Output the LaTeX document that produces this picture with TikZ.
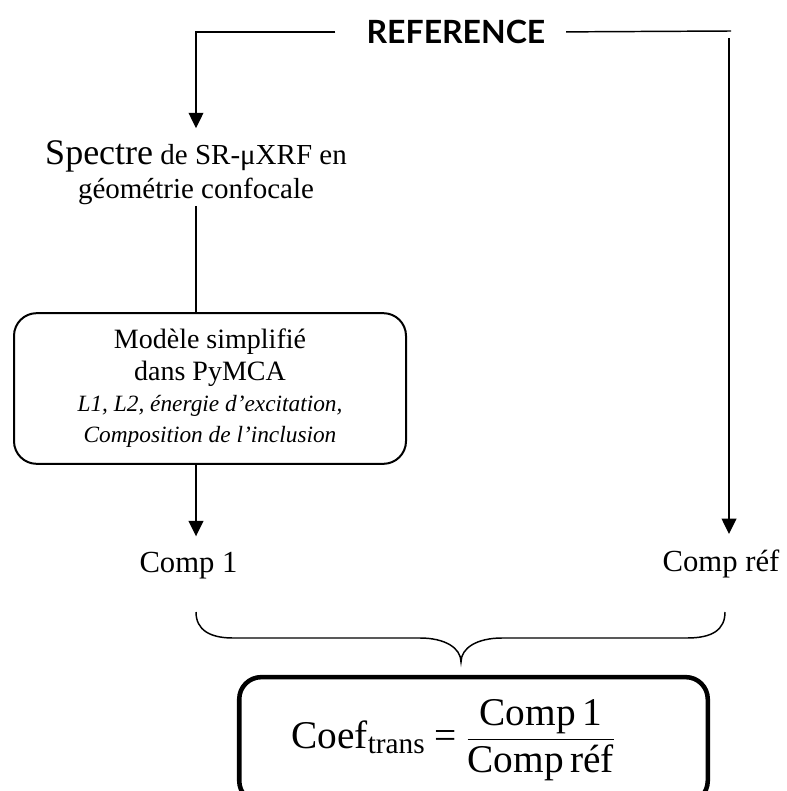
\documentclass[tikz,border=0pt]{standalone}
\usepackage{amsmath}
\usepackage{fontspec}
\setmainfont{Liberation Serif}
\newfontfamily\reffont{Lato}
\usetikzlibrary{arrows.meta}

\tikzset{every picture/.style={line width=1.1pt}}

\begin{document}
\begin{tikzpicture}[x=0.75pt,y=0.75pt,yscale=-1,xscale=1,
  arr/.style={-{Triangle[width=11pt,length=11.5pt]}},
  lbl/.style={inner sep=0pt,align=center},
  modelbox/.style={draw,line width=1.5pt,rounded corners=17pt,minimum width=294pt,minimum height=113pt,align=center,font=\fontsize{21}{23.5}\selectfont},
  coefbox/.style={draw,line width=3.4pt,rounded corners=16.5pt,minimum width=351.4pt,minimum height=94.3pt,inner sep=0pt}]
\useasboundingbox (0,0) rectangle (787,791);

% Text Nodes
\node (ref) [lbl,font=\reffont\bfseries\fontsize{24}{24}\selectfont] at (456,32) {REFERENCE};
\node (spectre) [lbl,font=\fontsize{21.75}{25.5}\selectfont] at (196,173) {{\fontsize{27}{27}\selectfont Spectre} de SR-μXRF en\\géométrie confocale};
\node (model) [modelbox] at (210,388.5) {Modèle simplifié\\dans PyMCA\\{\itshape\fontsize{17.5}{23}\selectfont L1, L2, énergie d’excitation,}\\{\itshape\fontsize{17.5}{23}\selectfont Composition de l’inclusion}};
\node (comp1) [lbl,anchor=base,font=\fontsize{23}{27}\selectfont] at (188.5,572) {Comp 1};
\node (compref) [lbl,anchor=base,font=\fontsize{23}{27}\selectfont] at (721,571) {Comp réf};
\node (coef) [coefbox,font=\fontsize{29.5}{33}\selectfont] at (473.5,740) {$\text{Coef}_{\text{\fontsize{22}{22}\selectfont trans}}\mathrel{\text{=}}\dfrac{\text{Comp\,1}}{\text{Comp\,réf}}$\hspace*{30pt}};

% Lines
\coordinate (rcorner) at (731,31);
\coordinate (rtop) at (729,38);
\draw [arr,shorten <=23pt] (ref.west) -| ([yshift=-9pt]spectre.north);
\draw [shorten <=15pt] (ref.east) -- (rcorner);
\draw [arr] (rtop) -- ([yshift=-11pt]rtop |- compref.north);
\draw (spectre.south) -- (spectre.south |- model.north);
\draw [arr] (spectre.south |- model.south) -- ([yshift=-11pt]spectre.south |- comp1.north);

% Brace
\draw (196,612) .. controls (196,630) and (210,638) .. (233,638) -- (420,638) .. controls (445,638) and (461,648) .. (461,662) .. controls (461,648) and (477,638) .. (502,638) -- (687,638) .. controls (712,638) and (725,630) .. (725,612);

\end{tikzpicture}
\end{document}
